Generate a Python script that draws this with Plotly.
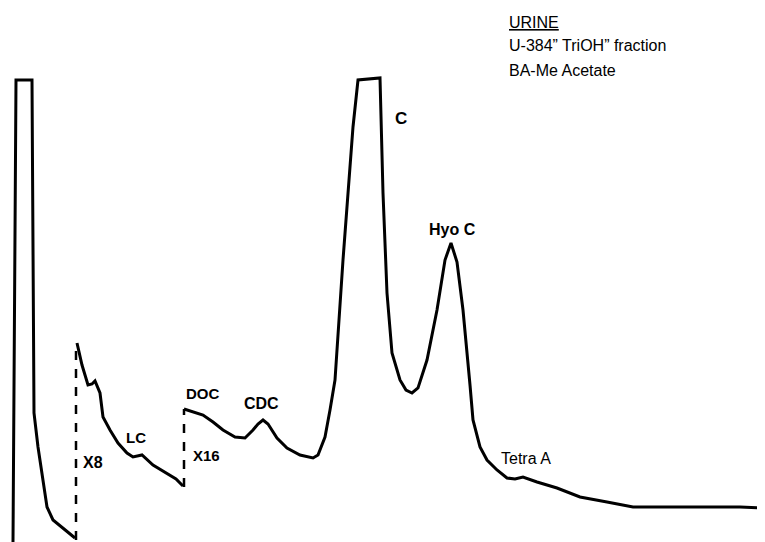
import plotly.graph_objects as go

H = 542  # chart height in response units (top of recorder paper)
PAGE = 8  # browser body margin in px, compensated in the axis ranges

seg1_t = [13, 14, 15, 16, 32, 33, 34, 38, 43, 47, 53, 65, 75]
seg1_y = [542, 400, 250, 80, 80, 300, 413, 447, 480, 507, 520, 530, 538]

seg2_t = [77, 82, 88, 92, 95, 100, 103, 110, 118, 127, 133, 142, 153, 167, 176, 183]
seg2_y = [343, 365, 385, 384, 381, 393, 417, 430, 443, 453, 457, 455, 465, 473, 479, 486]

seg3_t = [184, 193, 203, 213, 223, 235, 245, 253, 258, 263, 268, 277, 287, 300, 313, 318,
          325, 330, 335, 343, 353, 358, 380, 383, 387, 392, 400, 406, 412, 418, 427, 437,
          445, 451, 457, 463, 467, 470, 473, 480, 487, 497, 507, 515, 523, 537, 557, 580,
          607, 633, 673, 713, 740, 765]
seg3_y = [409, 412, 415, 422, 430, 437, 438, 430, 424, 420, 424, 438, 448, 455, 458, 455,
          437, 410, 380, 260, 127, 80, 78, 193, 293, 353, 380, 390, 393, 388, 360, 310,
          260, 243, 262, 310, 350, 385, 420, 447, 460, 470, 478, 479, 477, 482, 488, 497,
          502, 507, 507, 507, 507, 508]

# Attenuation change markers (dashed)
x8_t = [76, 76]
x8_y = [540, 343]
x16_t = [184, 184]
x16_y = [487, 409]

# Peak labels
lab_text = ["C", "Hyo C", "DOC", "CDC", "LC", "X8", "X16", "Tetra A"]
lab_t = [393, 427, 184, 242, 124, 81, 191, 499]
lab_y = [118, 229, 393, 403, 437, 462, 455, 458]
lab_bold = [True, True, True, True, True, True, True, False]
lab_size = [17, 16, 15, 16, 15, 16, 15, 16]

title_lines = ["<u>URINE</u>", "U-384\u201d TriOH\u201d fraction", "BA-Me Acetate"]
title_y = [22, 45, 70]

fig = go.Figure()

def pen(t, y, dash="solid", w=3):
    fig.add_trace(go.Scatter(x=t, y=[H - v for v in y], mode="lines",
                             line=dict(color="black", width=w, dash=dash),
                             hoverinfo="skip", showlegend=False))

pen(seg1_t, seg1_y)
pen(seg2_t, seg2_y)
pen(seg3_t, seg3_y)
pen(x8_t, x8_y, dash="dash", w=2.5)
pen(x16_t, x16_y, dash="dash", w=2.5)

FONT = "Liberation Sans, Arial"
for s, t, y, b, fs in zip(lab_text, lab_t, lab_y, lab_bold, lab_size):
    fig.add_annotation(x=t, y=H - y, text=f"<b>{s}</b>" if b else s, showarrow=False,
                       xanchor="left", yanchor="middle",
                       font=dict(family=FONT, size=fs, color="black"))

for s, y in zip(title_lines, title_y):
    fig.add_annotation(x=507, y=H - y, text=s, showarrow=False, xanchor="left",
                       yanchor="middle", font=dict(family=FONT, size=16, color="black"))

fig.update_layout(
    width=765, height=542,
    margin=dict(l=0, r=0, t=0, b=0),
    paper_bgcolor="white", plot_bgcolor="white",
    xaxis=dict(range=[PAGE, 765 + PAGE], visible=False, fixedrange=True),
    yaxis=dict(range=[-PAGE, H - PAGE], visible=False, fixedrange=True),
)

fig.write_html("out.html")
